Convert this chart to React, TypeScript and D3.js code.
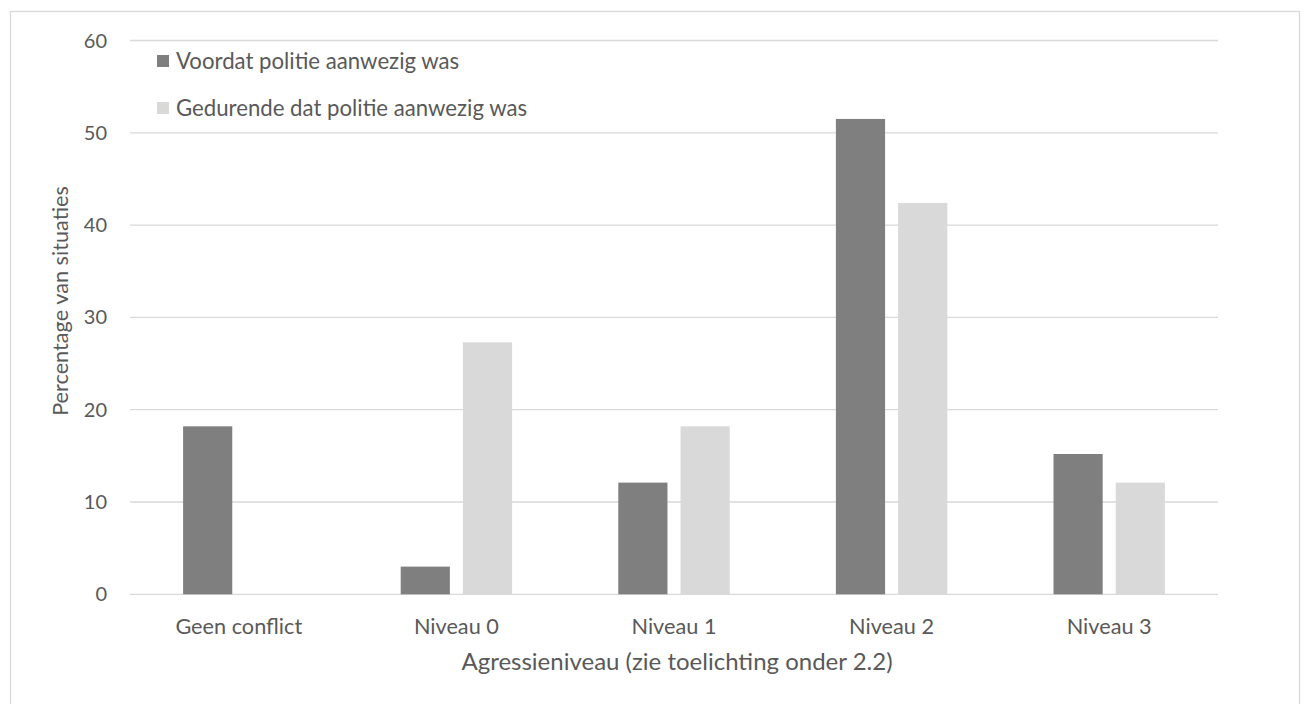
import React from "react";
import * as d3 from "d3";

const categories = ["Geen conflict", "Niveau 0", "Niveau 1", "Niveau 2", "Niveau 3"];
const seriesNames = ["Voordat politie aanwezig was", "Gedurende dat politie aanwezig was"];
const voordat = [18.2, 3.0, 12.1, 51.5, 15.2];
const gedurende = [0, 27.3, 18.2, 42.4, 12.1];
const yTicks = [0, 10, 20, 30, 40, 50, 60];
const colors = ["#7f7f7f", "#d9d9d9"];
const yTitle = "Percentage van situaties";
const xTitle = "Agressieniveau (zie toelichting onder 2.2)";

const W = 1307;
const H = 704;
const plot = { left: 130, right: 1218, top: 40.5, bottom: 594.3 };
const FONT = "Lato, Carlito, Calibri, 'Noto Sans', sans-serif";
const TEXT = "#595959";

export default function App() {
  const x = d3.scaleBand<string>().domain(categories).range([plot.left, plot.right]).padding(0);
  const y = d3.scaleLinear().domain([0, 60]).range([plot.bottom, plot.top]);
  const step = x.bandwidth();
  const barW = step * 0.226;
  const gap = step * 0.06;
  const series = [voordat, gedurende];

  return (
    <svg
      width={W}
      height={H}
      style={{ position: "absolute", left: 0, top: 0, background: "#fff" }}
      fontFamily={FONT}
    >
      <rect x={0} y={0} width={W} height={H} fill="#fff" />
      <rect x={10.5} y={11.5} width={1289} height={720} fill="none" stroke="#d9d9d9" strokeWidth={1.3} />
      {yTicks.map((t) => (
        <g key={t}>
          <line x1={plot.left} x2={plot.right} y1={y(t)} y2={y(t)} stroke="#d9d9d9" strokeWidth={1.3} />
          <text x={107} y={y(t)} dy="0.35em" textAnchor="end" fontSize={20} fill={TEXT}>
            {t}
          </text>
        </g>
      ))}
      {series.map((vals, si) =>
        categories.map((c, i) => {
          const center = (x(c) as number) + step / 2;
          const bx = si === 0 ? center - gap / 2 - barW : center + gap / 2;
          const v = vals[i];
          if (!v) return null;
          return (
            <rect
              key={`${si}-${i}`}
              x={bx}
              y={y(v)}
              width={barW}
              height={y(0) - y(v)}
              fill={colors[si]}
            />
          );
        })
      )}
      {categories.map((c) => (
        <text
          key={c}
          x={(x(c) as number) + step / 2}
          y={626}
          dy="0.35em"
          textAnchor="middle"
          fontSize={21.7}
          fill={TEXT}
        >
          {c}
        </text>
      ))}
      <text x={677} y={662} dy="0.35em" textAnchor="middle" fontSize={24} fill={TEXT}>
        {xTitle}
      </text>
      <text
        transform={`translate(60,301) rotate(-90)`}
        dy="0.35em"
        textAnchor="middle"
        fontSize={21.7}
        fill={TEXT}
      >
        {yTitle}
      </text>
      {seriesNames.map((n, i) => {
        const cy = 61 + i * 47;
        return (
          <g key={n}>
            <rect x={157} y={cy - 6} width={12} height={12} fill={colors[i]} />
            <text x={176} y={cy} dy="0.35em" fontSize={22.2} fill={TEXT}>
              {n}
            </text>
          </g>
        );
      })}
    </svg>
  );
}
